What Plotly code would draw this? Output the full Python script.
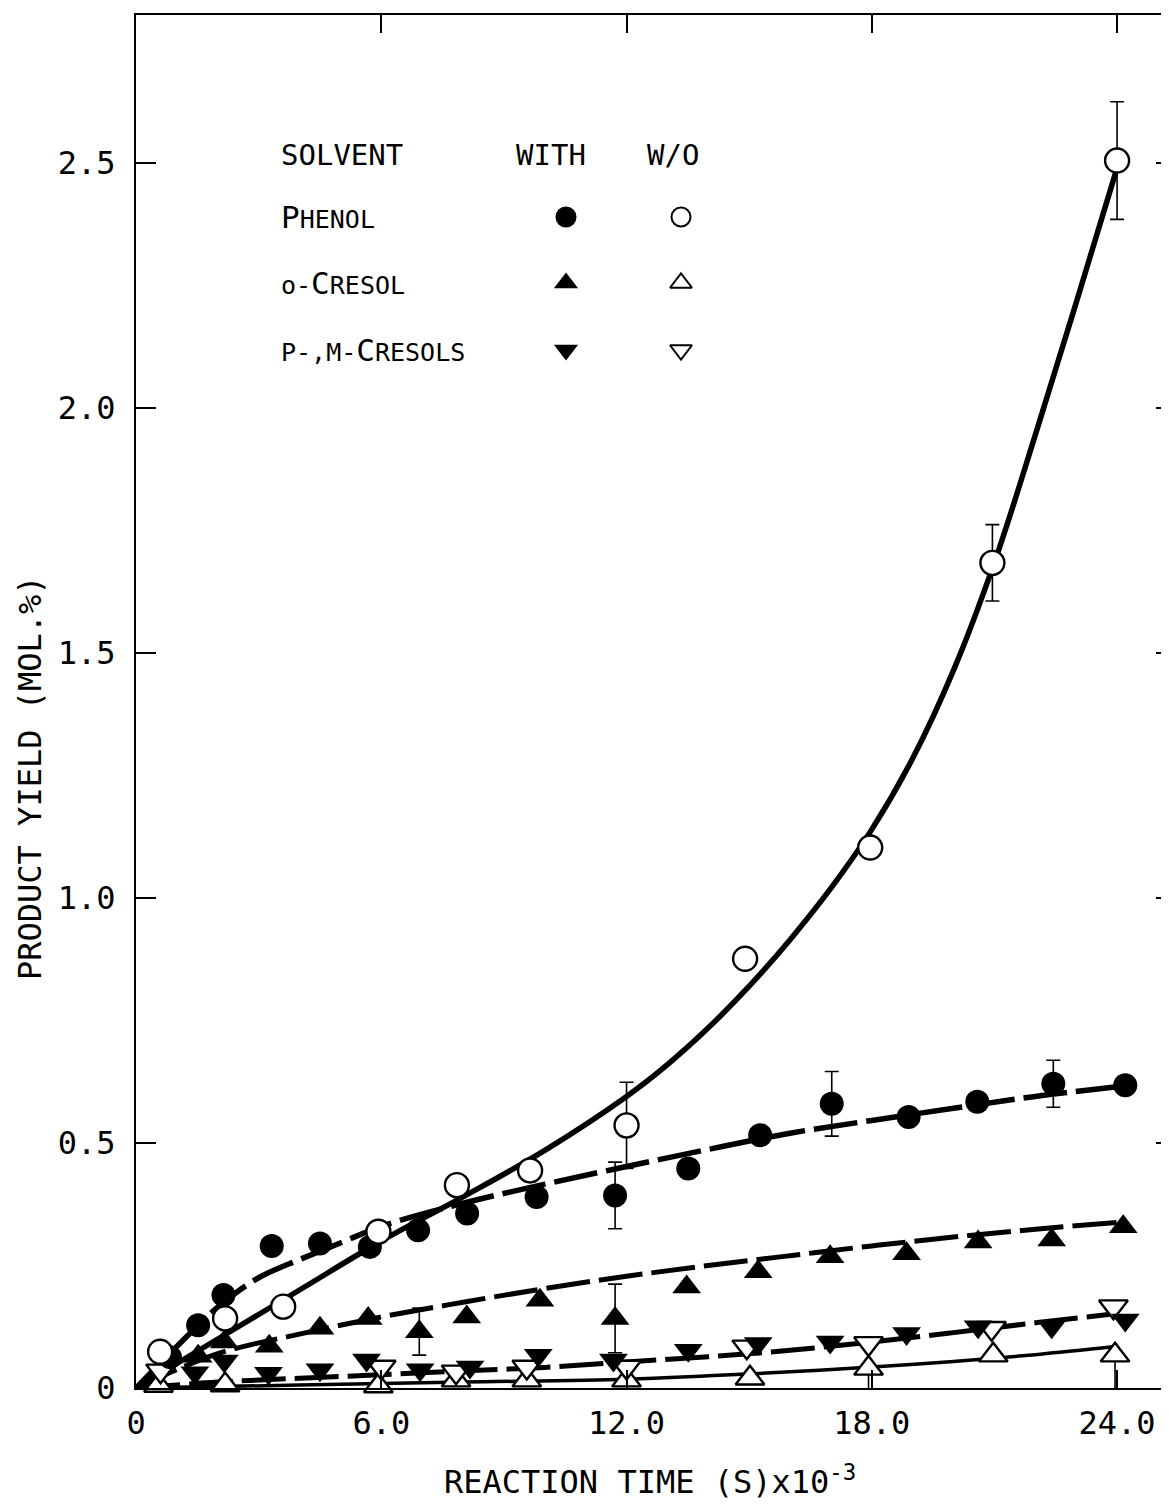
import plotly.graph_objects as go

# ---------------- data ----------------
t_phenol_with = [0.83, 1.52, 2.14, 3.32, 4.5, 5.72, 6.9, 8.1, 9.8, 11.72, 13.51, 15.27, 17.02, 18.9, 20.58, 22.44, 24.2]
y_phenol_with = [0.063, 0.128, 0.19, 0.29, 0.295, 0.288, 0.322, 0.356, 0.39, 0.393, 0.448, 0.516, 0.58, 0.553, 0.584, 0.621, 0.618]
e_phenol_with = [None, None, None, None, None, None, None, None, None, 0.068, None, None, 0.066, None, None, 0.048, None]

t_phenol_wo = [0.59, 2.18, 3.6, 5.93, 7.85, 9.64, 12.0, 14.9, 17.96, 20.95, 24.0]
y_phenol_wo = [0.074, 0.142, 0.166, 0.319, 0.414, 0.444, 0.536, 0.876, 1.103, 1.684, 2.505]
e_phenol_wo = [None, None, None, None, None, None, 0.088, None, None, 0.078, 0.12]

t_ocresol_with = [1.52, 2.16, 3.26, 4.5, 5.68, 6.93, 8.09, 9.88, 11.72, 13.47, 15.22, 16.98, 18.85, 20.6, 22.4, 24.15]
y_ocresol_with = [0.065, 0.094, 0.085, 0.122, 0.142, 0.115, 0.145, 0.179, 0.142, 0.206, 0.237, 0.268, 0.274, 0.298, 0.302, 0.329]
e_ocresol_with = [None, None, None, None, None, 0.048, None, None, 0.07, None, None, None, None, None, None, None]

t_ocresol_wo = [0.55, 2.18, 5.93, 7.83, 9.56, 12.0, 15.02, 17.92, 20.97, 23.95]
y_ocresol_wo = [0.005, 0.006, 0.004, 0.016, 0.016, 0.016, 0.02, 0.04, 0.067, 0.067]
e_ocresol_wo_minus = [None, None, None, None, None, None, None, 0.04, None, 0.067]

t_pmcresol_with = [1.44, 2.16, 3.24, 4.5, 5.64, 6.95, 8.17, 9.84, 11.68, 13.51, 15.22, 16.98, 18.85, 20.6, 22.4, 24.2]
y_pmcresol_with = [0.031, 0.055, 0.030, 0.037, 0.057, 0.037, 0.043, 0.067, 0.057, 0.077, 0.091, 0.094, 0.111, 0.125, 0.125, 0.139]

t_pmcresol_wo = [0.6, 6.0, 7.83, 9.56, 12.0, 14.94, 17.92, 20.93, 23.91]
y_pmcresol_wo = [0.035, 0.043, 0.033, 0.043, 0.043, 0.084, 0.091, 0.122, 0.166]

# fitted curves as drawn in the figure
curve_phenol_wo_t = [0, 2, 4, 6, 8, 10, 12, 13, 14, 15, 16, 17, 18, 19, 20, 21, 22, 23, 24]
curve_phenol_wo_y = [0, 0.10, 0.20, 0.30, 0.39, 0.485, 0.595, 0.66, 0.735, 0.82, 0.915, 1.02, 1.14, 1.285, 1.465, 1.685, 1.945, 2.215, 2.49]
curve_phenol_with_t = [0, 1, 2, 3, 4, 5, 6, 8, 10, 12, 14, 16, 18, 20, 22, 24]
curve_phenol_with_y = [0, 0.085, 0.165, 0.225, 0.262, 0.296, 0.33, 0.377, 0.416, 0.452, 0.487, 0.52, 0.546, 0.571, 0.595, 0.615]
curve_ocresol_with_t = [0, 2, 4, 6, 8, 10, 12, 14, 16, 18, 20, 22, 24]
curve_ocresol_with_y = [0, 0.07, 0.11, 0.145, 0.175, 0.203, 0.228, 0.25, 0.27, 0.29, 0.308, 0.324, 0.338]
curve_pmcresol_t = [0, 2, 4, 6, 8, 10, 12, 14, 16, 18, 20, 22, 24]
curve_pmcresol_y = [0, 0.012, 0.02, 0.027, 0.035, 0.042, 0.053, 0.064, 0.077, 0.094, 0.113, 0.133, 0.152]
curve_ocresol_wo_t = [0, 4, 8, 12, 14, 16, 18, 20, 22, 24]
curve_ocresol_wo_y = [0, 0.006, 0.012, 0.018, 0.025, 0.033, 0.043, 0.054, 0.068, 0.085]

x_tickvals = [0, 6, 12, 18, 24]
x_ticktext = ["0", "6.0", "12.0", "18.0", "24.0"]
y_tickvals = [0, 0.5, 1.0, 1.5, 2.0, 2.5]
y_ticktext = ["0", "0.5", "1.0", "1.5", "2.0", "2.5"]

# ---------------- layout geometry (page pixels) ----------------
PAGE_W, PAGE_H = 1169, 1507
OFF = 8                      # default body margin of the html page
PLOT_L, PLOT_R, PLOT_T, PLOT_B = 136, 1169, 15, 1388
W = PAGE_W - OFF
H = PAGE_H - OFF
L = PLOT_L - OFF
T = PLOT_T - OFF
R = (OFF + W) - PLOT_R
B = (OFF + H) - PLOT_B
X_MAX = 25.27
Y_MAX = 2.802
FONT = "DejaVu Sans Mono"


def px_to_paper_x(p):
    return (p - PLOT_L) / (PLOT_R - PLOT_L)


def px_to_paper_y(p):
    return (PLOT_B - p) / (PLOT_B - PLOT_T)


def px_to_data_x(p):
    return px_to_paper_x(p) * X_MAX


def px_to_data_y(p):
    return px_to_paper_y(p) * Y_MAX


fig = go.Figure()

# curves
dash_long = "44px,9px"
for tx, ty, dash, w in [
    (curve_phenol_wo_t, curve_phenol_wo_y, "solid", 5.5),
    (curve_phenol_with_t, curve_phenol_with_y, dash_long, 5.5),
    (curve_ocresol_with_t, curve_ocresol_with_y, dash_long, 5),
    (curve_pmcresol_t, curve_pmcresol_y, dash_long, 5),
    (curve_ocresol_wo_t, curve_ocresol_wo_y, "solid", 3.5),
]:
    fig.add_trace(go.Scatter(x=tx, y=ty, mode="lines", line=dict(color="black", width=w, dash=dash, shape="spline", smoothing=1.0),
                             showlegend=False, hoverinfo="skip", cliponaxis=False))

SIZE_CIRCLE = 24
SIZE_TRI = 25


def err(arr):
    return dict(type="data", array=arr, visible=True, color="black", thickness=1.6, width=7)


def add_markers(tx, ty, symbol, filled, error_y=None):
    size = SIZE_CIRCLE if symbol == "circle" else SIZE_TRI
    fig.add_trace(go.Scatter(
        x=tx, y=ty, mode="markers", showlegend=False, cliponaxis=False,
        marker=dict(symbol=symbol, size=size, color="black" if filled else "white",
                    line=dict(color="black", width=0 if filled else 2.4)),
        error_y=error_y if error_y is not None else dict(visible=False),
    ))


add_markers(t_ocresol_wo, y_ocresol_wo, "triangle-up", False,
            dict(type="data", symmetric=False, array=[0] * len(t_ocresol_wo), arrayminus=e_ocresol_wo_minus,
                 visible=True, color="black", thickness=1.6, width=0))
add_markers(t_pmcresol_wo, y_pmcresol_wo, "triangle-down", False)
add_markers(t_pmcresol_with, y_pmcresol_with, "triangle-down", True)
add_markers(t_ocresol_with, y_ocresol_with, "triangle-up", True, err(e_ocresol_with))
add_markers(t_phenol_with, y_phenol_with, "circle", True, err(e_phenol_with))
add_markers(t_phenol_wo, y_phenol_wo, "circle", False, err(e_phenol_wo))

# legend symbols
leg_x_with = px_to_data_x(566)
leg_x_wo = px_to_data_x(681)
leg_rows = [px_to_data_y(217), px_to_data_y(283), px_to_data_y(350)]
leg_symbols = ["circle", "triangle-up", "triangle-down"]
for yy, sym in zip(leg_rows, leg_symbols):
    fig.add_trace(go.Scatter(x=[leg_x_with], y=[yy], mode="markers", showlegend=False, hoverinfo="skip",
                             marker=dict(symbol=sym, size=21, color="black", line=dict(width=0))))
    fig.add_trace(go.Scatter(x=[leg_x_wo], y=[yy], mode="markers", showlegend=False, hoverinfo="skip",
                             marker=dict(symbol=sym, size=19, color="white", line=dict(color="black", width=2))))

# invisible trace so the right-side tick axis renders
fig.add_trace(go.Scatter(x=[0], y=[0], yaxis="y2", mode="markers", marker=dict(opacity=0, size=1),
                         showlegend=False, hoverinfo="skip"))

BIG = 31
SMALL = 25


def sc(s):
    return f"<span style='font-size:{SMALL}px'>{s}</span>"


legend_texts = [
    ("SOLVENT", 279, 155, 29),
    ("WITH", 514, 155, 29),
    ("W/O", 645, 155, 29),
    ("P" + sc("HENOL"), 279, 217, BIG),
    (sc("o-") + "C" + sc("RESOL"), 279, 283, BIG),
    (sc("P-,M-") + "C" + sc("RESOLS"), 279, 350, BIG),
]
annotations = []
for txt, px, py, size in legend_texts:
    annotations.append(dict(text=txt, x=px_to_paper_x(px), y=px_to_paper_y(py), xref="paper", yref="paper",
                            xanchor="left", yanchor="middle", showarrow=False,
                            font=dict(family=FONT, size=size, color="black")))

annotations.append(dict(text="REACTION TIME (S)x10<sup>-3</sup>", x=px_to_paper_x(650), y=px_to_paper_y(1480),
                        xref="paper", yref="paper", xanchor="center", yanchor="middle", showarrow=False,
                        font=dict(family=FONT, size=32, color="black")))
annotations.append(dict(text="PRODUCT YIELD (MOL.%)", x=px_to_paper_x(30), y=px_to_paper_y(778),
                        xref="paper", yref="paper", xanchor="center", yanchor="middle", showarrow=False,
                        textangle=-90, font=dict(family=FONT, size=32, color="black")))

fig.update_layout(
    width=W, height=H,
    margin=dict(l=L, r=R, t=T, b=B, autoexpand=False),
    paper_bgcolor="white", plot_bgcolor="white",
    showlegend=False,
    annotations=annotations,
    xaxis=dict(range=[0, X_MAX], tickvals=x_tickvals, ticktext=x_ticktext, ticks="inside", ticklen=18, tickwidth=2,
               tickcolor="black", showline=True, linecolor="black", linewidth=2, mirror="ticks", showgrid=False,
               zeroline=False, tickfont=dict(family=FONT, size=32, color="black"), ticklabelstandoff=6,
               automargin=False),
    yaxis=dict(range=[0, Y_MAX], tickvals=y_tickvals, ticktext=y_ticktext, ticks="inside", ticklen=20, tickwidth=2,
               tickcolor="black", showline=True, linecolor="black", linewidth=2, showgrid=False, zeroline=False,
               tickfont=dict(family=FONT, size=32, color="black"), ticklabelstandoff=12, automargin=False),
    yaxis2=dict(range=[0, Y_MAX], overlaying="y", side="right", tickvals=y_tickvals, ticks="inside", ticklen=13,
                tickwidth=2, tickcolor="black", showticklabels=False, showline=False, showgrid=False, zeroline=False,
                automargin=False),
)

fig.write_html("out.html")
